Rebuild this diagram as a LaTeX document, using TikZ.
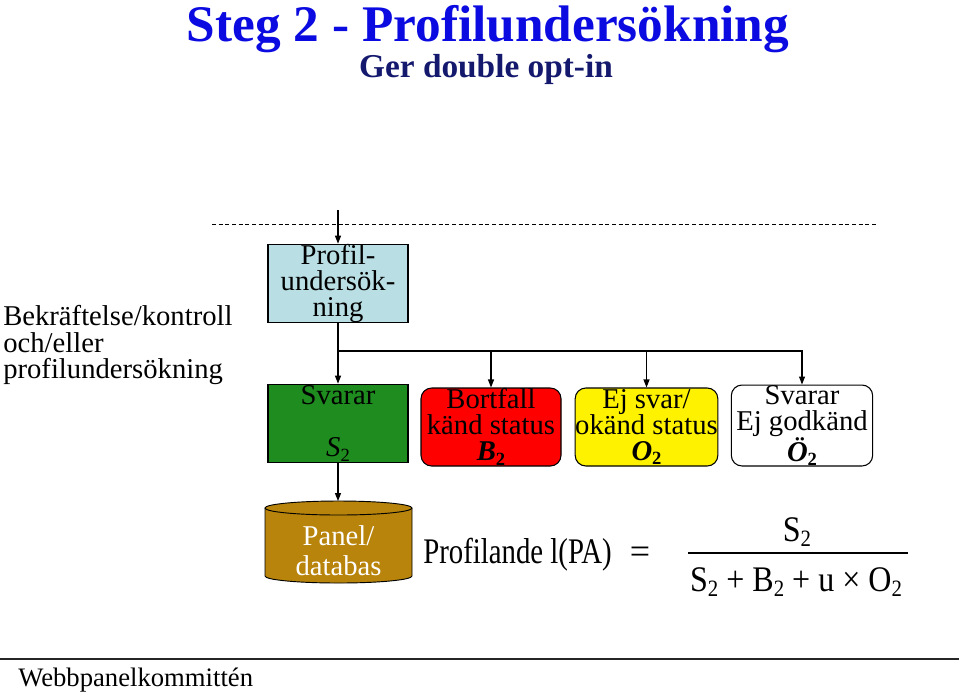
\documentclass[tikz,border=0pt]{standalone}
\usepackage{fontspec}
\usepackage{graphicx}
\setmainfont{Liberation Serif}
\usetikzlibrary{arrows.meta}
\newcommand{\lsub}[1]{\raisebox{-0.35ex}{\scalebox{0.65}{#1}}}
\definecolor{titleblue}{RGB}{10,10,225}
\definecolor{subnavy}{RGB}{20,25,110}
\definecolor{profblue}{RGB}{185,222,228}
\definecolor{sgreen}{RGB}{30,140,30}
\definecolor{cylcol}{RGB}{184,132,12}
\begin{document}
\begin{tikzpicture}[x=0.75pt,y=-0.75pt,
  body/.style={font=\fontsize{21.5}{19.5}\selectfont, align=center, inner sep=0pt},
  box/.style={draw=black, line width=0.8pt, minimum width=105pt, minimum height=59pt, body},
  rbox/.style={box, rounded corners=8pt, minimum width=105pt, minimum height=58.5pt},
  arr/.style={-{Triangle[length=6pt,width=4.5pt]}, line width=0.8pt},
  formula/.style={font=\fontsize{27}{29}\selectfont, inner sep=0pt}]
\useasboundingbox (0,0) rectangle (959,694);

% titles
\node[font=\fontsize{38.5}{40}\selectfont\bfseries, text=titleblue, anchor=base, inner sep=0pt] (title) at (488,41) {Steg 2 - Profilundersökning};
\node[font=\fontsize{25}{28}\selectfont\bfseries, text=subnavy, anchor=base, inner sep=0pt] (sub) at (486,77) {Ger double opt-in};

% dashed line
\draw[line width=0.6pt, dash pattern=on 3pt off 2pt] (212,224) -- (878,224);

% left text
\node[font=\fontsize{21.5}{20}\selectfont, align=left, anchor=west, inner sep=0pt] (lefttxt) at (3,345) {Bekräftelse/kontroll\\och/eller\\profilundersökning};

% boxes
\node[box, fill=profblue] (prof) at (338,283.5) {Profil-\\undersök-\\ning};
\node[box, fill=sgreen] (svar) at (338,423.5) {Svarar\\[19.5pt]\textit{S}\lsub{2}};
\node[rbox, fill=red] (bort) at (491,427) {Bortfall\\känd status\\\textbf{\textit{B}}\lsub{\textbf{2}}};
\node[rbox, fill=yellow, minimum width=107pt] (ejsvar) at (646.5,427) {Ej svar/\\okänd status\\\textbf{\textit{O}}\lsub{\textbf{2}}};
\node[rbox, fill=white, minimum width=106pt] (ejgod) at (802,425.5) {Svarar\\Ej godkänd\\\textbf{\textit{Ö}}\lsub{\textbf{2}}};

% connectors
\coordinate (top) at (338,210);
\coordinate (j0) at (338,351);
\draw[arr] (top) -- (prof.north);
\draw[arr] (prof.south) -- (svar.north);
\draw[arr] (j0) -| (ejgod.north);
\draw[arr] (bort.north |- j0) -- (bort.north);
\draw[arr] (ejsvar.north |- j0) -- (ejsvar.north);

% cylinder
\coordinate (cyltop) at (338,501);
\fill[cylcol] (265,508) -- (265,576) arc[start angle=180,end angle=0,x radius=73.5,y radius=7] -- (412,508) arc[start angle=0,end angle=-180,x radius=73.5,y radius=7] -- cycle;
\draw[line width=0.7pt] (265,508) -- (265,576) arc[start angle=180,end angle=0,x radius=73.5,y radius=7] -- (412,508);
\draw[line width=0.7pt] (338.5,508) ellipse[x radius=73.5,y radius=7];
\node[font=\fontsize{21.5}{22.5}\selectfont, text=white, align=center, inner sep=0pt] (panel) at (338.5,551) {Panel/\\databas};
\draw[arr] (svar.south) -- (cyltop);

% formula
\node[formula, anchor=base west] (pa) at (423,563) {\scalebox{0.8}[1]{Profilande l(PA)}};
\node[formula, anchor=base] (eq) at (640,563) {=};
\draw[line width=0.9pt] (688,553) -- (908,553);
\node[formula, anchor=base] (num) at (797,541) {\scalebox{0.89}[1]{S\lsub{2}}};
\node[formula, anchor=base] (den) at (796,591) {\scalebox{0.89}[1]{S\lsub{2} + B\lsub{2} + u × O\lsub{2}}};

% footer
\draw[line width=1.5pt, color=black!85] (0,659) -- (959,659);
\node[font=\fontsize{20}{22}\selectfont, anchor=west, inner sep=0pt] (foot) at (18,680) {Webbpanelkommittén};
\end{tikzpicture}
\end{document}
